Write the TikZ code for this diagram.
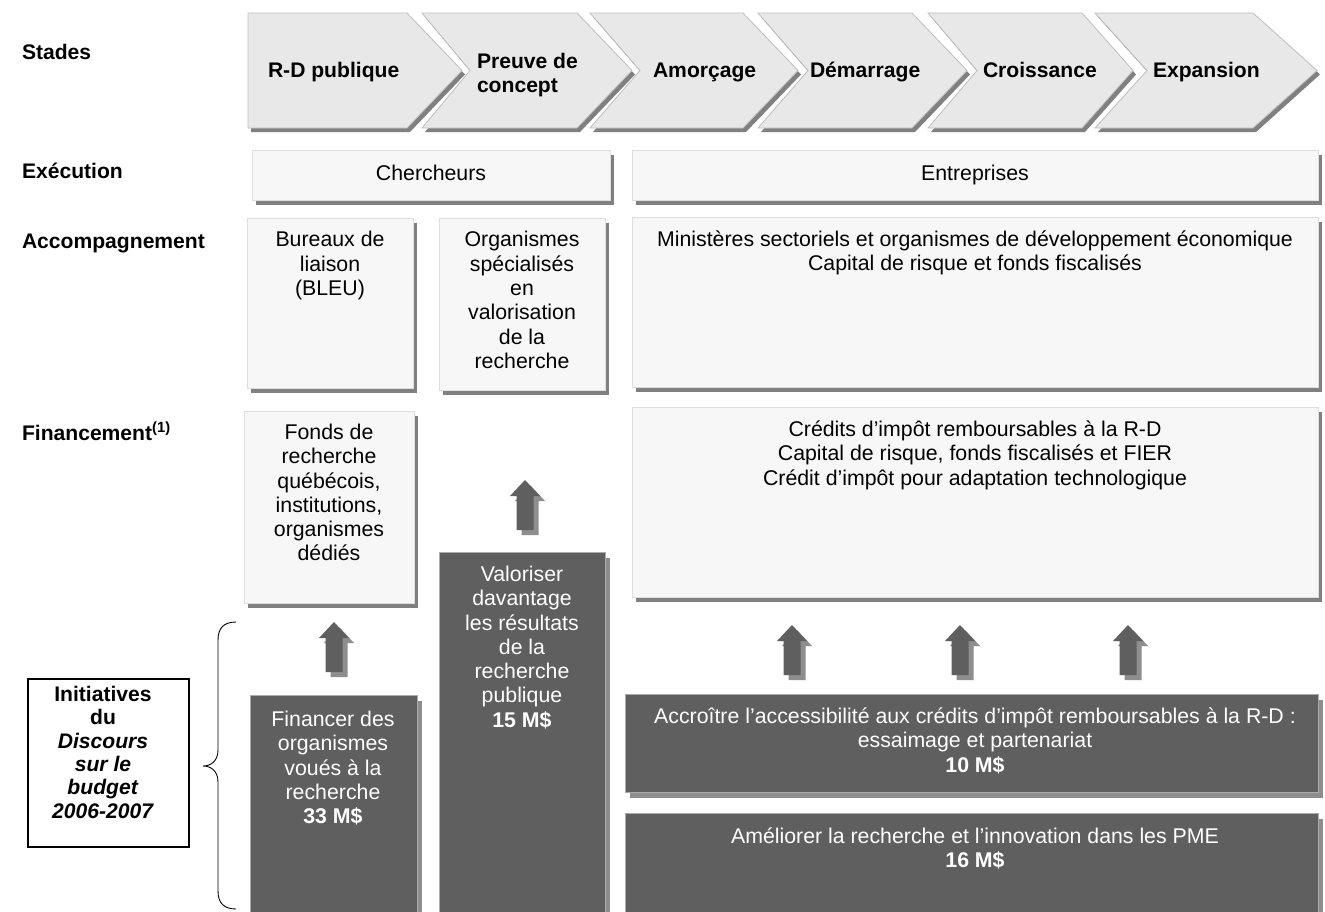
\documentclass[tikz,border=0pt]{standalone}
\usepackage{fontspec}
\setmainfont{Liberation Sans}
\usetikzlibrary{shadows}
\definecolor{chevfill}{HTML}{E8E8E8}
\definecolor{chevline}{HTML}{BEBEBE}
\definecolor{lightfill}{HTML}{F7F7F7}
\definecolor{lightline}{HTML}{DEDEDE}
\definecolor{shad}{HTML}{808080}
\definecolor{darkfill}{HTML}{5F5F5F}
\definecolor{darkline}{HTML}{ABABAB}
\definecolor{arrshad}{HTML}{8E8E8E}
\newcommand\nfnt{\fontsize{21.3}{24.3}\selectfont}
\newcommand\bfnt{\fontsize{21.1}{24.3}\selectfont\bfseries}
\begin{document}
\begin{tikzpicture}[x=1pt,y=-1pt,
  every node/.style={inner sep=0pt,outer sep=0pt},
  lbl/.style={font=\bfnt,anchor=base west},
  txt/.style={font=\nfnt,align=center,anchor=north,execute at begin node=\strut},
  wtxt/.style={txt,text=white},
  boxshadow/.style={drop shadow={shadow xshift=4pt,shadow yshift=-5pt,fill=shad,opacity=1}},
  lightbox/.style={boxshadow,fill=lightfill,draw=lightline,line width=0.8pt,anchor=north west},
  darkbox/.style={drop shadow={shadow xshift=5pt,shadow yshift=-6pt,fill=arrshad,opacity=1},fill=darkfill,draw=darkline,line width=0.8pt,anchor=north west},
  chev/.style={fill=chevfill,draw=chevline,line width=0.8pt,drop shadow={shadow xshift=3pt,shadow yshift=-4pt,fill=shad,opacity=1}},
  uparr/.pic={
    \fill[arrshad] (-3.5,5) -- (13.5,5) -- (13.5,-29) -- (20,-29) -- (5,-45) -- (-10,-29) -- (-3.5,-29) -- cycle;
    \fill[darkfill] (-8.5,0) -- (8.5,0) -- (8.5,-34) -- (15,-34) -- (0,-50) -- (-15,-34) -- (-8.5,-34) -- cycle;
  }
]
\useasboundingbox (0,0) rectangle (1325,911);
\fill[white] (0,0) rectangle (1325,911);

% chevrons
\path[chev] (248,13) -- (407,13) -- (462,70.5) -- (407,128) -- (248,128) -- cycle;
\path[chev] (422,13) -- (577,13) -- (632,70.5) -- (577,128) -- (422,128) -- (470,70.5) -- cycle;
\path[chev] (590,13) -- (743,13) -- (798,70.5) -- (743,128) -- (590,128) -- (640,70.5) -- cycle;
\path[chev] (758,13) -- (912,13) -- (967,70.5) -- (912,128) -- (758,128) -- (808,70.5) -- cycle;
\path[chev] (928,13) -- (1082,13) -- (1133,70.5) -- (1082,128) -- (928,128) -- (977,70.5) -- cycle;
\path[chev] (1095,13) -- (1253,13) -- (1317,70.5) -- (1253,128) -- (1095,128) -- (1147,70.5) -- cycle;

\node[lbl] (s1) at (268,77.5) {R-D publique};
\node[font=\bfnt,align=left,anchor=north west,execute at begin node=\strut] (s2) at (477,53) {Preuve de\\concept};
\node[lbl] (s3) at (653,77.5) {Amorçage};
\node[lbl] (s4) at (810,77.5) {Démarrage};
\node[lbl] (s5) at (983,77.5) {Croissance};
\node[lbl] (s6) at (1153,77.5) {Expansion};

% left labels
\node[lbl] (lstades) at (22,59.5) {Stades};
\node[lbl] (lexec) at (22,178) {Exécution};
\node[lbl] (lacc) at (22,248) {Accompagnement};
\node[lbl] (lfin) at (22,440) {Financement\textsuperscript{(1)}};

% light boxes
\node[lightbox,minimum width=358,minimum height=50] (cher) at (252,150) {};
\node[lightbox,minimum width=686,minimum height=50] (entr) at (632,150) {};
\node[lightbox,minimum width=166,minimum height=170] (bur) at (247,218) {};
\node[lightbox,minimum width=166,minimum height=172] (org) at (439,218) {};
\node[lightbox,minimum width=686,minimum height=170] (mini) at (632,217) {};
\node[lightbox,minimum width=170,minimum height=192] (fonds) at (244,411) {};
\node[lightbox,minimum width=686,minimum height=190] (cred) at (632,407) {};

\node[txt] (chert) at (431,163.5) {Chercheurs};
\node[txt] (entrt) at (975,163.5) {Entreprises};
\node[txt] (burt) at (330,231.5) {Bureaux de\\liaison\\(BLEU)};
\node[txt] (orgt) at (522,231.5) {Organismes\\spécialisés\\en\\valorisation\\de la\\recherche};
\node[txt] (minit) at (975,230.5) {Ministères sectoriels et organismes de développement économique\\Capital de risque et fonds fiscalisés};
\node[txt] (fondst) at (329,424) {Fonds de\\recherche\\québécois,\\institutions,\\organismes\\dédiés};
\node[txt] (credt) at (975,421) {Crédits d’impôt remboursables à la R-D\\Capital de risque, fonds fiscalisés et FIER\\Crédit d’impôt pour adaptation technologique};

% dark boxes
\node[darkbox,minimum width=167,minimum height=230] (fin) at (250,695) {};
\node[darkbox,minimum width=166,minimum height=372] (val) at (439,552) {};
\node[darkbox,minimum width=693,minimum height=98] (acc) at (625,694) {};
\node[darkbox,minimum width=693,minimum height=110] (ame) at (625,813) {};

\node[wtxt] (fint) at (333,711) {Financer des\\organismes\\voués à la\\recherche\\\textbf{33 M\$}};
\node[wtxt] (valt) at (522,566) {Valoriser\\davantage\\les résultats\\de la\\recherche\\publique\\\textbf{15 M\$}};
\node[wtxt] (acct) at (975,708) {Accroître l’accessibilité aux crédits d’impôt remboursables à la R-D :\\essaimage et partenariat\\\textbf{10 M\$}};
\node[wtxt] (amet) at (975,828) {Améliorer la recherche et l’innovation dans les PME\\\textbf{16 M\$}};

% arrows
\coordinate (a1) at (334,672);
\coordinate (a2) at (525,530);
\coordinate (a3) at (792,675);
\coordinate (a4) at (960,675);
\coordinate (a5) at (1128,675);
\foreach \a in {a1,a2,a3,a4,a5} \pic at (\a) {uparr};

% initiatives
\node[draw=black,line width=1.2pt,minimum width=161,minimum height=168,anchor=north west] (init) at (28,679) {};
\node[font=\fontsize{21.1}{23.4}\selectfont\bfseries,align=center,anchor=north,execute at begin node=\strut] (initt) at (103,686) {Initiatives\\du\\\textit{Discours}\\\textit{sur le}\\\textit{budget}\\\textit{2006-2007}};

% brace
\draw[line width=0.9pt] (236,622) .. controls (224,622) and (218,628) .. (218,640) -- (218,750) .. controls (218,761) and (211,766) .. (203,766) .. controls (211,766) and (218,771) .. (218,782) -- (218,891) .. controls (218,903) and (224,909) .. (236,909);
\end{tikzpicture}
\end{document}
